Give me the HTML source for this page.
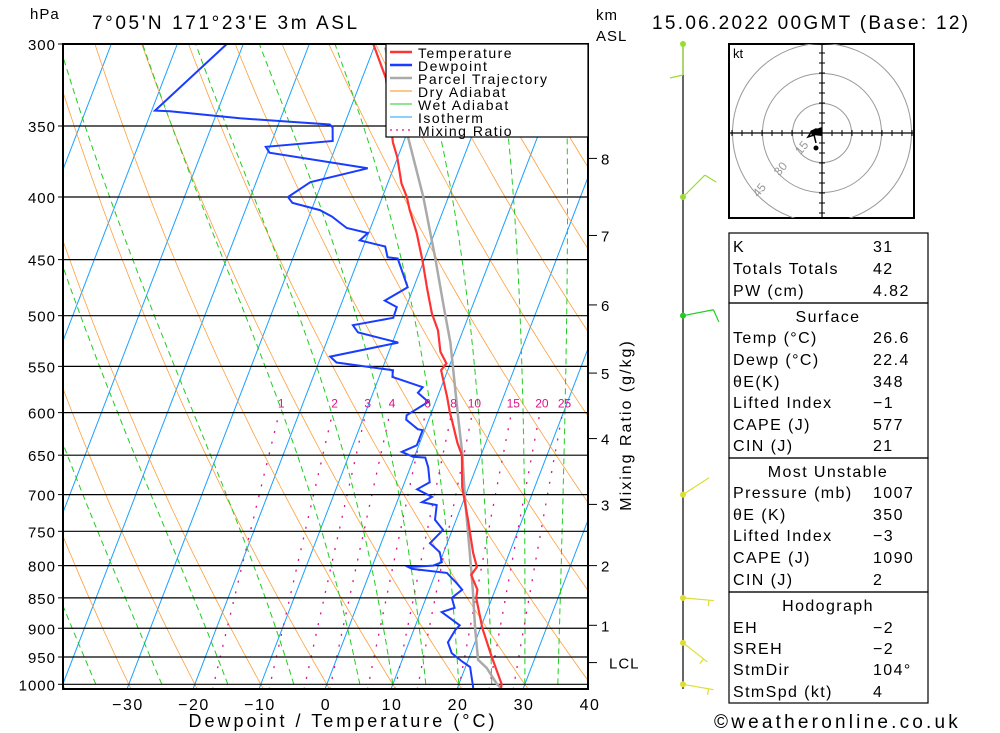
<!DOCTYPE html>
<html><head><meta charset="utf-8"><style>
html,body{margin:0;padding:0;background:#fff;}
svg{display:block;font-family:"Liberation Sans",sans-serif;}
</style></head><body>
<svg id="chart" width="1000" height="733" viewBox="0 0 1000 733" xmlns="http://www.w3.org/2000/svg">
<defs><clipPath id="plotclip"><rect x="63" y="44" width="525" height="645"/></clipPath>
<clipPath id="hodoclip"><rect x="729" y="44" width="185" height="174"/></clipPath></defs>
<rect width="1000" height="733" fill="#fff"/>
<g id="bg" clip-path="url(#plotclip)"></g>
<g id="series" clip-path="url(#plotclip)"></g>
<g id="axes"></g>
<g id="legend">
 <rect x="386" y="44" width="202" height="93" fill="#fff" stroke="#000" stroke-width="1.2"/>
 <g font-size="14" letter-spacing="1.5">
  <line x1="390" y1="52" x2="412" y2="52" stroke="#ff3333" stroke-width="2.5"/><text x="418" y="58">Temperature</text>
  <line x1="390" y1="65" x2="412" y2="65" stroke="#1a3cff" stroke-width="2.5"/><text x="418" y="71">Dewpoint</text>
  <line x1="390" y1="78" x2="412" y2="78" stroke="#aaaaaa" stroke-width="2.5"/><text x="418" y="84">Parcel Trajectory</text>
  <line x1="390" y1="91" x2="412" y2="91" stroke="#ff8c1a" stroke-width="1"/><text x="418" y="97">Dry Adiabat</text>
  <line x1="390" y1="104" x2="412" y2="104" stroke="#22cc22" stroke-width="1"/><text x="418" y="110">Wet Adiabat</text>
  <line x1="390" y1="117" x2="412" y2="117" stroke="#1aa0ff" stroke-width="1"/><text x="418" y="123">Isotherm</text>
  <line x1="390" y1="130" x2="412" y2="130" stroke="#dd1188" stroke-width="1.2" stroke-dasharray="2,4"/><text x="418" y="136">Mixing Ratio</text>
 </g>
</g>
<g id="text">
 <text x="30" y="19" font-size="15" letter-spacing="1">hPa</text>
 <text x="92" y="29" font-size="19" letter-spacing="2.6">7°05'N 171°23'E 3m ASL</text>
 <text x="596" y="20" font-size="15" letter-spacing="1">km</text>
 <text x="596" y="41" font-size="15" letter-spacing="1">ASL</text>
 <text x="652" y="29" font-size="19" letter-spacing="2.3">15.06.2022 00GMT (Base: 12)</text>
 <text x="343" y="727" font-size="18" letter-spacing="3" text-anchor="middle">Dewpoint / Temperature (°C)</text>
 <text x="0" y="0" font-size="16" letter-spacing="2" text-anchor="middle" transform="translate(631,425) rotate(-90)">Mixing Ratio (g/kg)</text>
 <text x="714" y="728" font-size="19" letter-spacing="3.2">©weatheronline.co.uk</text>
</g>
<g id="wind"></g>
<g id="hodo"></g>
<g id="table" font-size="16" letter-spacing="1.4"></g>
</svg>
<script>
// ---- sounding data ----
const tempP = [1007,1000,950,900,850,837,814,802,781,734,690,650,635,608,600,583,554,547,535,514,498,476,450,428,410,400,390,371,361,320,300];
const tempT = [26.6,26.5,23.4,20.3,17.6,17.3,15.5,15.9,14.5,11.8,9.0,7.1,5.7,3.5,2.8,1.5,-1.0,-0.6,-2.2,-3.8,-5.7,-7.8,-10.3,-12.7,-15.1,-16.3,-17.9,-20.1,-21.6,-26.4,-30.3];
const dewP = [1007,1000,968,959,943,924,903,895,873,866,850,837,827,811,805,802,800,795,780,767,748,734,714,710,703,693,684,665,653,652,646,638,620,619,608,603,588,578,572,561,554,546,540,526,516,509,502,492,486,474,449,448,439,434,428,424,415,410,404.5,400,389,379,368,364,360,351,349,345,340.5,340,300];
const dewT = [22.4,22.1,20.7,19.3,17.1,15.9,16.3,16.7,13.2,14.9,13.9,15.0,13.8,11.7,6.2,5.5,9.2,10.3,9.4,7.4,8.6,6.8,6.2,3.8,5.0,2.3,3.8,2.7,1.7,-0.2,-2.2,-0.3,-0.3,-1.1,-3.4,-3.6,-1.1,-3.2,-2.8,-8.0,-8.3,-17.3,-18.6,-9.1,-15.8,-17.0,-11.3,-11.4,-13.6,-10.9,-14.1,-15.7,-16.7,-20.9,-20.1,-23.6,-26.5,-28.7,-33.3,-34.3,-31.8,-23.9,-39.7,-40.6,-30.8,-31.6,-32.2,-46.2,-57.2,-59.5,-52.5];
const parcelP = [1007,1000,970,955,900,837,781,707,647,608,526,495,448,400,361,302];
const parcelT = [26.6,25.8,23.3,21.5,19.2,16.6,14.0,10.2,7.0,4.5,-1.2,-4.0,-8.5,-13.8,-19.1,-28.3];
const pressureTicks = [300,350,400,450,500,550,600,650,700,750,800,850,900,950,1000];
const tempTicks = [-30,-20,-10,0,10,20,30,40];
const mixRatios = [1,2,3,4,6,8,10,15,20,25];
const wetStarts = [-35,-25,-15,-5,5,10,15,20,25,30,35];
const kmLabels = ["8","7","6","5","4","3","2","1","LCL"];
const kmPressures = [372,430,490,557,630,713,800,895,960];
const windP = [1000,925,850,700,500,400,300];
const windDir = [100,128,95,57,79,45,180];
const windSpd = [5,5,5,3,10,10,10];
const hodoU = [0,-1,-3,-5,-7,-4,-3];
const hodoV = [0,1,2,1,-2,-1,-5];
const tableLabels = ["K","Totals Totals","PW (cm)","","Temp (°C)","Dewp (°C)","θE(K)","Lifted Index","CAPE (J)","CIN (J)","","Pressure (mb)","θE (K)","Lifted Index","CAPE (J)","CIN (J)","","EH","SREH","StmDir","StmSpd (kt)"];
const tableValues = ["31","42","4.82","Surface","26.6","22.4","348","−1","577","21","Most Unstable","1007","350","−3","1090","2","Hodograph","−2","−2","104°","4"];

// ---- axis functions ----
const Y0=684.3, YH=640.3, LN=Math.log(1000/300);
function yP(p){return Y0-Math.log(1000/p)/LN*YH;}
function xT(T,y){return 325+6.6*T+0.385*(689-y);}
const NS="http://www.w3.org/2000/svg";
function mk(tag,attrs,parent){const e=document.createElementNS(NS,tag);for(const k in attrs)e.setAttribute(k,attrs[k]);parent.appendChild(e);return e;}
function pathFrom(P,T){return P.map((p,i)=>{const y=yP(p);return (i?'L':'M')+xT(T[i],y).toFixed(1)+','+y.toFixed(1);}).join('');}
const bg=document.getElementById('bg'),series=document.getElementById('series'),axes=document.getElementById('axes');

// isotherms
for(let T=-110;T<=40;T+=10){
 const l=mk('line',{x1:xT(T,689),y1:689,x2:xT(T,44),y2:44,stroke:'#1aa0ff','stroke-width':1},bg);
 
 
}
// dry adiabats
for(let th=-60;th<=140;th+=10){
 let d='';
 for(let p=1010;p>=300;p-=10){const T=(th+273.15)*Math.pow(p/1000,0.286)-273.15;const y=yP(p);d+=(p===1010?'M':'L')+xT(T,y).toFixed(1)+','+y.toFixed(1);}
 const e=mk('path',{d:d,fill:'none',stroke:'#ff9a33','stroke-width':0.75},bg);
 
 
}
// wet adiabats
function es(Tc){return 6.112*Math.exp(17.67*Tc/(Tc+243.5));}
wetStarts.forEach(T0=>{
 let T=T0+273.15,d='';
 for(let p=1000;p>=300;p-=5){
  const y=yP(p);d+=(p===1000?'M':'L')+xT(T-273.15,y).toFixed(1)+','+y.toFixed(1);
  const e=es(T-273.15),rs=0.622*e/(p-e);
  const dTdp=(287*T+2.5e6*rs)/(p*(1004+2.5e6*2.5e6*rs*0.622/(287*T*T)));
  T-=dTdp*5;
 }
 const w=mk('path',{d:d,fill:'none',stroke:'#22cc22','stroke-width':1,'stroke-dasharray':'6,4'},bg);
 
 
});
// mixing ratio lines
function tdFor(w,p){const e=w*p/(622+w);const a=Math.log(e/6.112);return 243.5*a/(17.67-a);}
mixRatios.forEach(w=>{
 let d='';
 for(let p=1010;p>=600;p-=10){const y=yP(p);d+=(p===1010?'M':'L')+xT(tdFor(w,p),y).toFixed(1)+','+y.toFixed(1);}
 const m=mk('path',{d:d,fill:'none',stroke:'#dd1188','stroke-width':1.3,'stroke-dasharray':'2,9'},bg);
 
 
 const y=yP(600)-5;
 const t=mk('text',{x:xT(tdFor(w,600),y).toFixed(1),y:y,'font-size':12,fill:'#dd1188','text-anchor':'middle'},axes);
 t.textContent=w;
 
 
});
// pressure lines
pressureTicks.forEach(p=>{
 const y=yP(p);
 const l=mk('line',{x1:63,y1:y,x2:588,y2:y,stroke:'#000','stroke-width':1.2},bg);
 
 
 const tk=mk('line',{x1:58,y1:y,x2:63,y2:y,stroke:'#000','stroke-width':1},axes);
 
 
 const t=mk('text',{x:56,y:y+6,'font-size':15,'text-anchor':'end','letter-spacing':1},axes);
 t.textContent=p;
 
 
});
// series
const parcel=mk('path',{d:pathFrom(parcelP,parcelT),fill:'none',stroke:'#aaaaaa','stroke-width':2.5},series);


const dew=mk('path',{d:pathFrom(dewP,dewT),fill:'none',stroke:'#1a3cff','stroke-width':2},series);


const tmp=mk('path',{d:pathFrom(tempP,tempT),fill:'none',stroke:'#ff3333','stroke-width':2.2},series);


// frame
const fr=mk('rect',{x:63,y:44,width:525,height:645,fill:'none',stroke:'#000','stroke-width':2},axes);


// x ticks
tempTicks.forEach(T=>{
 const t=mk('text',{x:xT(T,689)+1,y:710,'font-size':16,'text-anchor':'middle','letter-spacing':1.5},axes);
 t.textContent=T<0?'−'+Math.abs(T):T;
 
 
});
// km labels
kmLabels.forEach((s,i)=>{
 const y=yP(kmPressures[i]);
 const tk=mk('line',{x1:588,y1:y,x2:597,y2:y,stroke:'#000','stroke-width':1},axes);
 
 
 const t=mk('text',{x:s==='LCL'?609:601,y:y+6,'font-size':15,'letter-spacing':1},axes);
 t.textContent=s;
 
 
});
// wind barbs
const wind=document.getElementById('wind');
const barbColors=['#dddd33','#dddd33','#dddd33','#dddd33','#22cc22','#99dd33','#99dd33'];
const sh=mk('line',{x1:683,y1:44,x2:683,y2:689,stroke:'#000','stroke-width':1.2},wind);


windP.forEach((p,i)=>{
 const y=yP(p),x=683,L=31,a=windDir[i]*Math.PI/180;
 const dx=Math.sin(a),dy=-Math.cos(a);
 const ex=x+dx*L,ey=y+dy*L,c=barbColors[i];
 const g=mk('g',{},wind);
 
 
 mk('circle',{cx:x,cy:y,r:3,fill:c},g);
 mk('line',{x1:x,y1:y,x2:ex,y2:ey,stroke:c,'stroke-width':1.2},g);
 const px=-dy,py=dx;
 if(windSpd[i]>=10){mk('line',{x1:ex,y1:ey,x2:ex+px*13+dx*3,y2:ey+py*13+dy*3,stroke:c,'stroke-width':1.2},g);}
 else if(windSpd[i]>=5){const bx=ex-dx*5,by=ey-dy*5;mk('line',{x1:bx,y1:by,x2:bx+px*6,y2:by+py*6,stroke:c,'stroke-width':1.2},g);}
});
// hodograph
const hodo=document.getElementById('hodo');
const hb=mk('rect',{x:729,y:44,width:185,height:174,fill:'#fff',stroke:'#000','stroke-width':2},hodo);


const hg=mk('g',{'clip-path':'url(#hodoclip)'},hodo);
const cx=822,cy=133,kpx=2;
[15,30,45].forEach(r=>{
 const c=mk('circle',{cx:cx,cy:cy,r:r*kpx-0.5,fill:'none',stroke:'#999','stroke-width':1},hg);
 
 
 const t=mk('text',{x:0,y:0,'font-size':12,fill:'#999','text-anchor':'middle',transform:`translate(${cx-r*kpx*0.707+4},${cy+r*kpx*0.707-4}) rotate(-50)`},hg);
 t.textContent=r;
 
 
});
mk('line',{x1:729,y1:cy,x2:914,y2:cy,stroke:'#000','stroke-width':1.2},hg);
mk('line',{x1:cx,y1:44,x2:cx,y2:218,stroke:'#000','stroke-width':1.2},hg);
for(let k=-45;k<=45;k+=5){if(!k)continue;
 mk('line',{x1:cx+k*kpx,y1:cy-3,x2:cx+k*kpx,y2:cy+3,stroke:'#000','stroke-width':1},hg);
 mk('line',{x1:cx-3,y1:cy+k*kpx,x2:cx+3,y2:cy+k*kpx,stroke:'#000','stroke-width':1},hg);}
const kt=mk('text',{x:733,y:58,'font-size':13},hodo);kt.textContent='kt';


let hd='';hodoU.forEach((u,i)=>{hd+=(i?'L':'M')+(cx+u*kpx)+','+(cy-hodoV[i]*kpx);});
const hl=mk('path',{d:hd,fill:'none',stroke:'#000','stroke-width':1.5},hodo);


mk('circle',{cx:cx+hodoU[hodoU.length-1]*kpx,cy:cy-hodoV[hodoV.length-1]*kpx+5,r:2.5,fill:'#000'},hodo);
mk('polygon',{points:`${cx-12},${cy-2} ${cx},${cy-6} ${cx},${cy+3} ${cx-10},${cy+2}`,fill:'#000'},hodo);
// table
const tb=document.getElementById('table');
const rowY=[246,268,290,0,337,359,381,402,424,445,0,492,514,535,557,579,0,627,648,669,691];
const headY=[0,0,0,316,0,0,0,0,0,0,471,0,0,0,0,0,605];
[[233,303],[303,458],[458,592],[592,703]].forEach(b=>{
 const r=mk('rect',{x:729,y:b[0],width:199,height:b[1]-b[0],fill:'none',stroke:'#000','stroke-width':1.2},tb);
 
 
});
tableLabels.forEach((lab,i)=>{
 if(lab===''){
  const t=mk('text',{x:828,y:headY[i]+6,'text-anchor':'middle'},tb);t.textContent=tableValues[i];
  
  
  return;}
 const y=rowY[i]+6;
 const a=mk('text',{x:733,y:y},tb);a.textContent=lab;
 
 
 const v=mk('text',{x:873,y:y},tb);v.textContent=tableValues[i];
 
 
});
</script>
</body></html>
